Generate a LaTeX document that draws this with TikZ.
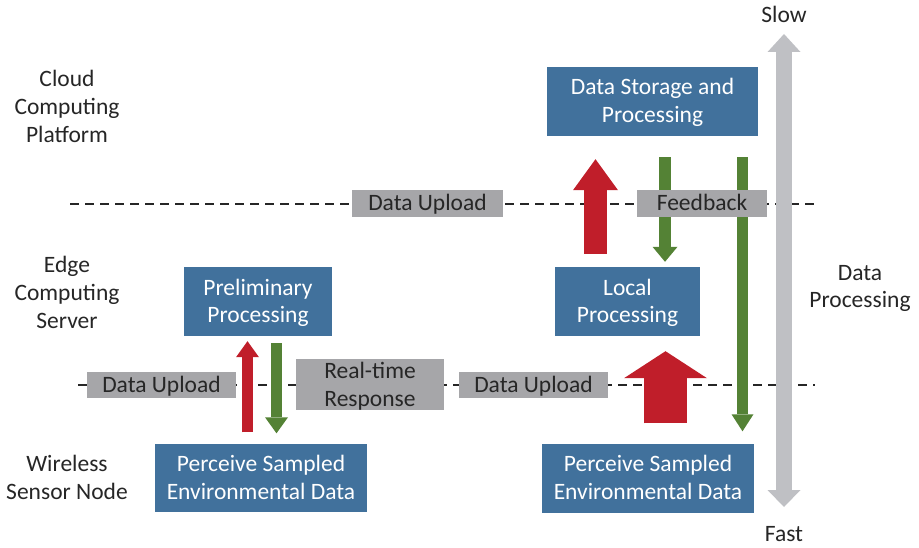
\documentclass[tikz,border=0pt]{standalone}
\usepackage{fontspec}
\setmainfont{Carlito}
\usepackage{tikz}
\usepackage{xcolor}
\usetikzlibrary{arrows.meta}
\definecolor{boxblue}{RGB}{65,113,156}
\definecolor{taggray}{RGB}{166,166,169}
\definecolor{textdark}{RGB}{38,38,38}
\definecolor{upred}{RGB}{192,30,42}
\definecolor{downgreen}{RGB}{84,130,53}
\definecolor{scalegray}{RGB}{191,192,196}
\tikzstyle{block} = [
    rectangle, minimum height=69pt, inner sep=0pt, text height=43pt, text depth=0pt,
    text centered, align=center, fill=boxblue, text=white
]
\tikzstyle{tag} = [
    rectangle, minimum height=27pt, inner sep=0pt, text height=15pt, text depth=0pt,
    text centered, align=center, fill=taggray, text=textdark
]
\tikzstyle{two-line} = [text height=43pt, text depth=0pt]
\tikzstyle{layer} = [align=center, text=textdark, inner sep=0pt]
\tikzstyle{level} = [line width=1.2pt, textdark, dash pattern=on 9pt off 6pt]
\tikzset{fat/.style n args={3}{line width=#1,
    -{Triangle[width=#2, length=#3, line width=0pt]}}}

\begin{document}
\begin{tikzpicture}[x=1pt, y=-1pt, font=\fontsize{23.5}{28}\selectfont]
            \useasboundingbox (0,0) rectangle (919,548);

            \node (cloud) [layer] at (67,106) {Cloud\\Computing\\Platform};
            \node (edge) [layer] at (67,292) {Edge\\Computing\\Server};
            \node (sensor) [layer] at (67,477) {Wireless\\Sensor Node};

            \node (store) [block, minimum width=211pt] at (652.5,101.5) {Data Storage and\\Processing};
            \node (prelim) [block, minimum width=148pt] at (258,301.5) {Preliminary\\Processing};
            \node (local) [block, minimum width=145pt] at (627.5,301.5) {Local\\Processing};
            \node (senseL) [block, minimum width=212pt, minimum height=68pt] at (261,477.5)
                            {Perceive Sampled\\Environmental Data};
            \node (senseR) [block, minimum width=212pt] at (648,478)
                            {Perceive Sampled\\Environmental Data};

            \node (slow) [layer] at (784,14) {Slow};
            \node (fast) [layer] at (784,534) {Fast};
            \node (speed) [layer, two-line] at (860,286.5) {Data\\Processing};

            \coordinate (cloudL) at (70,204);
            \coordinate (cloudR) at (815,204);
            \coordinate (edgeL) at (78,385);
            \coordinate (edgeR) at (815,385);
            \draw [level] (cloudL) -- (cloudR);
            \draw [level] (edgeL) -- (edgeR);

            \draw [scalegray, line width=16pt,
                   {Triangle[width=33pt, length=17pt, line width=0pt]}-{Triangle[width=33pt, length=18pt, line width=0pt]},
                   shorten <=27pt, shorten >=20pt] (fast.center) -- (slow.center);

            \draw [upred, fat={11pt}{23pt}{16pt}, shorten <=11pt, shorten >=5pt]
                ([xshift=-10.5pt]prelim.south |- senseL.north) -- ([xshift=-10.5pt]prelim.south);
            \draw [downgreen, fat={11pt}{23pt}{16pt}, shorten <=7pt, shorten >=10pt]
                ([xshift=18.5pt]prelim.south) -- ([xshift=18.5pt]prelim.south |- senseL.north);

            \draw [upred, fat={23pt}{45pt}{31pt}, shorten <=13pt, shorten >=23pt]
                ([xshift=-32pt]local.north) -- ([xshift=-32pt]local.north |- store.south);
            \draw [downgreen, fat={12pt}{25pt}{15pt}, shorten <=21pt, shorten >=5pt]
                ([xshift=12.5pt]store.south) -- ([xshift=12.5pt]store.south |- local.north);
            \draw [downgreen, fat={11pt}{22pt}{17pt}, shorten <=21pt, shorten >=12pt]
                ([xshift=90pt]store.south) -- ([xshift=90pt]store.south |- senseR.north);
            \draw [upred, fat={43pt}{83pt}{27pt}, shorten <=20pt, shorten >=15pt]
                ([xshift=38pt]local.south |- senseR.north) -- ([xshift=38pt]local.south);

            \node (upCloud) [tag, minimum width=151pt] at (427.5,203.5) {Data Upload};
            \node (feedback) [tag, minimum width=130pt] at (702,203.5) {Feedback};
            \node (upEdgeL) [tag, minimum width=149pt, minimum height=26pt] at (161.5,385) {Data Upload};
            \node (response) [tag, two-line, minimum width=148pt, minimum height=51pt] at (370,384.5)
                            {Real-time\\Response};
            \node (upEdgeR) [tag, minimum width=149pt, minimum height=26pt] at (533.5,385) {Data Upload};
        \end{tikzpicture}
\end{document}
